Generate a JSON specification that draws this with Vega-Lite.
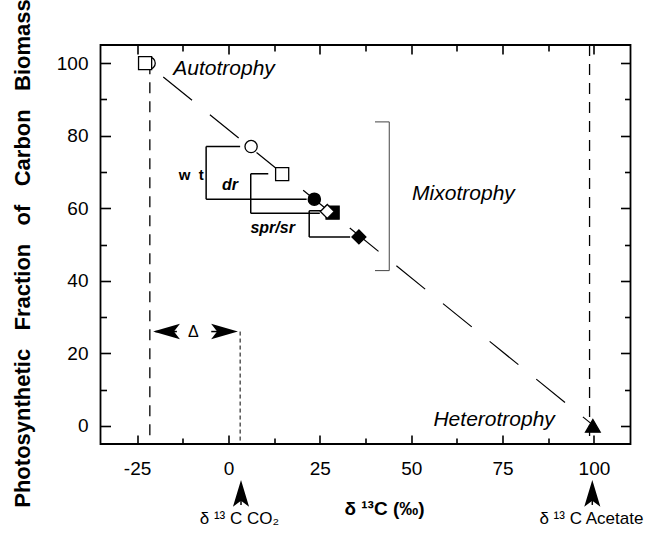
{
  "$schema": "https://vega.github.io/schema/vega-lite/v6.json",
  "width": 530,
  "height": 399,
  "autosize": {"type": "none"},
  "padding": {"left": 100.5, "top": 45, "right": 15.5, "bottom": 96},
  "background": "white",
  "config": {
    "font": "Liberation Sans",
    "view": {"stroke": "black", "strokeWidth": 1.8},
    "axis": {"domain": false, "grid": false, "tickColor": "black", "tickWidth": 1.6, "labelColor": "black", "labelFontSize": 19, "labelFont": "Liberation Sans", "titleColor": "black", "titleFont": "Liberation Sans"}
  },
  "datasets": {
    "diag": [{"x": -22.5, "y": 100}, {"x": 100, "y": 0}],
    "longdash": [{"x": -21.5, "y": 100, "y2": -5}, {"x": 98.8, "y": 105, "y2": -5}],
    "shortdash": [{"x": 3.2, "y": 26, "y2": -5}],
    "brackets": [
      {"x": -6.1, "y": 77.0, "x2": 3.2, "y2": 77.0},
      {"x": -6.1, "y": 77.0, "x2": -6.1, "y2": 62.5},
      {"x": -6.1, "y": 62.5, "x2": 21.4, "y2": 62.5},
      {"x": 6.1, "y": 69.5, "x2": 10.9, "y2": 69.5},
      {"x": 6.1, "y": 69.5, "x2": 6.1, "y2": 58.6},
      {"x": 6.1, "y": 58.6, "x2": 25.0, "y2": 58.6},
      {"x": 22.1, "y": 59.3, "x2": 25.5, "y2": 59.3},
      {"x": 22.1, "y": 59.3, "x2": 22.1, "y2": 52.1},
      {"x": 22.1, "y": 52.1, "x2": 33.3, "y2": 52.1}
    ],
    "mixbracket": [
      {"x": 40.1, "y": 83.8, "x2": 44.0, "y2": 83.8},
      {"x": 44.0, "y": 83.8, "x2": 44.0, "y2": 42.8},
      {"x": 40.1, "y": 42.8, "x2": 44.0, "y2": 42.8}
    ],
    "shafts": [
      {"x": -20.0, "y": 26, "x2": -14.1, "y2": 26},
      {"x": -4.7, "y": 26, "x2": 1.2, "y2": 26},
      {"x": 3.44, "y": -16, "x2": 3.44, "y2": -21.8},
      {"x": 99.55, "y": -16, "x2": 99.55, "y2": -21.8}
    ],
    "heads": [
      {"dir": "left", "x": -20.6, "y": 26},
      {"dir": "right", "x": 2.6, "y": 26},
      {"dir": "up", "x": 3.44, "y": -14.9},
      {"dir": "up", "x": 99.55, "y": -14.9}
    ],
    "points": [
      {"group": "wt", "light": "open", "x": -21.7, "y": 100},
      {"group": "dr", "light": "open", "x": -22.8, "y": 100},
      {"group": "wt", "light": "open", "x": 6.2, "y": 77.0},
      {"group": "dr", "light": "open", "x": 14.7, "y": 69.4},
      {"group": "wt", "light": "filled", "x": 23.5, "y": 62.5},
      {"group": "dr", "light": "filled", "x": 28.5, "y": 58.8},
      {"group": "spr/sr", "light": "open", "x": 27.05, "y": 59.1},
      {"group": "spr/sr", "light": "filled", "x": 35.7, "y": 52.1},
      {"group": "acetate", "light": "filled", "x": 99.7, "y": 0}
    ],
    "regimes": [
      {"label": "Autotrophy", "x": -1.2, "y": 96.7},
      {"label": "Mixotrophy", "x": 64.3, "y": 62.3},
      {"label": "Heterotrophy", "x": 72.7, "y": 0}
    ],
    "mutants": [
      {"label": "dr", "x": 0.4, "y": 65.0},
      {"label": "spr/sr", "x": 12.1, "y": 53.2}
    ],
    "wt": [{"label": "w\u00a0\u00a0t", "x": -10.2, "y": 67.8}],
    "delta": [{"label": "Δ", "x": -9.6, "y": 24.4}],
    "sources": [
      {"label": "δ ¹³ C CO₂", "x": 3.0, "y": -25.7},
      {"label": "δ ¹³ C Acetate", "x": 99.3, "y": -25.7}
    ]
  },
  "layer": [
    {
      "data": {"name": "diag"},
      "mark": {"type": "line", "stroke": "black", "strokeWidth": 1.2, "strokeDash": [37, 23], "strokeDashOffset": 38},
      "encoding": {
        "x": {"field": "x", "type": "quantitative", "scale": {"domain": [-35, 110], "nice": false, "zero": false},
          "axis": {"orient": "top", "labels": false, "title": null, "values": [-25, -12.5, 0, 12.5, 25, 37.5, 50, 62.5, 75, 87.5, 100],
            "tickSize": {"condition": {"test": "datum.value % 25 === 0", "value": -9}, "value": -6}}},
        "y": {"field": "y", "type": "quantitative", "scale": {"domain": [-5, 105], "nice": false, "zero": false},
          "axis": {"orient": "right", "labels": false, "title": null, "values": [0, 10, 20, 30, 40, 50, 60, 70, 80, 90, 100],
            "tickSize": {"condition": {"test": "datum.value % 20 === 0", "value": -10}, "value": -6}}}
      }
    },
    {
      "encoding": {
        "x": {"field": "x", "type": "quantitative", "scale": {"domain": [-35, 110], "nice": false, "zero": false},
          "axis": {"orient": "bottom", "values": [-25, -12.5, 0, 12.5, 25, 37.5, 50, 62.5, 75, 87.5, 100],
            "labelExpr": "datum.value % 25 === 0 ? '' + datum.value : ''",
            "tickSize": {"condition": {"test": "datum.value % 25 === 0", "value": -9}, "value": -6},
            "labelPadding": 24.7,
            "title": "δ ¹³C (‰)", "titleFontSize": 19, "titleFontWeight": "bold", "titleX": 283.5, "titleY": 64, "titleBaseline": "middle"}},
        "y": {"field": "y", "type": "quantitative", "scale": {"domain": [-5, 105], "nice": false, "zero": false},
          "axis": {"orient": "left", "values": [0, 10, 20, 30, 40, 50, 60, 70, 80, 90, 100],
            "labelExpr": "datum.value % 20 === 0 ? '' + datum.value : ''",
            "tickSize": {"condition": {"test": "datum.value % 20 === 0", "value": -10}, "value": -6},
            "labelPadding": 22.5,
            "title": "Photosynthetic\u00a0\u00a0\u00a0Fraction\u00a0\u00a0\u00a0of\u00a0\u00a0\u00a0Carbon\u00a0\u00a0\u00a0Biomass",
            "titleFontSize": 22, "titleFontWeight": "bold", "titleX": -78, "titleY": 208, "titleBaseline": "middle", "titleAngle": 270}}
      },
      "layer": [
        {"data": {"name": "longdash"}, "mark": {"type": "rule", "stroke": "black", "strokeWidth": 1.3, "strokeDash": [11, 8]},
          "encoding": {"y2": {"field": "y2"}}},
        {"data": {"name": "shortdash"}, "mark": {"type": "rule", "stroke": "black", "strokeWidth": 1, "strokeDash": [4, 3]},
          "encoding": {"y2": {"field": "y2"}}},
        {"data": {"name": "brackets"}, "mark": {"type": "rule", "stroke": "black", "strokeWidth": 1.5},
          "encoding": {"x2": {"field": "x2"}, "y2": {"field": "y2"}}},
        {"data": {"name": "mixbracket"}, "mark": {"type": "rule", "stroke": "#444444", "strokeWidth": 1},
          "encoding": {"x2": {"field": "x2"}, "y2": {"field": "y2"}}},
        {"data": {"name": "shafts"}, "mark": {"type": "rule", "stroke": "black", "strokeWidth": 1.5},
          "encoding": {"x2": {"field": "x2"}, "y2": {"field": "y2"}}},
        {"data": {"name": "points"}, "mark": {"type": "point", "filled": true, "stroke": "black", "strokeWidth": 1.3, "opacity": 1},
          "encoding": {
            "shape": {"field": "group", "type": "nominal", "scale": {"domain": ["wt", "dr", "spr/sr", "acetate"], "range": ["circle", "square", "diamond", "triangle-up"]}, "legend": null},
            "size": {"field": "group", "type": "nominal", "scale": {"domain": ["wt", "dr", "spr/sr", "acetate"], "range": [150, 215, 290, 225]}, "legend": null},
            "fill": {"field": "light", "type": "nominal", "scale": {"domain": ["open", "filled"], "range": ["white", "black"]}, "legend": null}
          }},
        {"data": {"name": "heads"}, "mark": {"type": "point", "filled": true, "fill": "black", "stroke": null, "opacity": 1},
          "encoding": {
            "shape": {"field": "dir", "type": "nominal", "scale": {"domain": ["left", "right", "up"], "range": ["M0,0L2,-0.58L1.55,0L2,0.58Z", "M0,0L-2,-0.58L-1.55,0L-2,0.58Z", "M0,0L-0.6,2L0,1.55L0.6,2Z"]}, "legend": null},
            "size": {"field": "dir", "type": "nominal", "scale": {"domain": ["left", "right", "up"], "range": [720, 720, 480]}, "legend": null}
          }},
        {"data": {"name": "regimes"}, "mark": {"type": "text", "fontSize": 21, "fontStyle": "italic", "align": "center", "baseline": "alphabetic", "color": "black"},
          "encoding": {"text": {"field": "label"}}},
        {"data": {"name": "mutants"}, "mark": {"type": "text", "fontSize": 16, "fontStyle": "italic", "fontWeight": "bold", "align": "center", "baseline": "alphabetic", "color": "black"},
          "encoding": {"text": {"field": "label"}}},
        {"data": {"name": "wt"}, "mark": {"type": "text", "fontSize": 15, "fontWeight": "bold", "align": "center", "baseline": "alphabetic", "color": "black"},
          "encoding": {"text": {"field": "label"}}},
        {"data": {"name": "delta"}, "mark": {"type": "text", "fontSize": 16, "align": "center", "baseline": "alphabetic", "color": "black"},
          "encoding": {"text": {"field": "label"}}},
        {"data": {"name": "sources"}, "mark": {"type": "text", "fontSize": 17, "align": "center", "baseline": "middle", "color": "black"},
          "encoding": {"text": {"field": "label"}}}
      ],
      "resolve": {"scale": {"shape": "independent", "size": "independent", "fill": "independent"}}
    }
  ],
  "resolve": {"scale": {"x": "independent", "y": "independent"}, "axis": {"x": "independent", "y": "independent"}}
}
